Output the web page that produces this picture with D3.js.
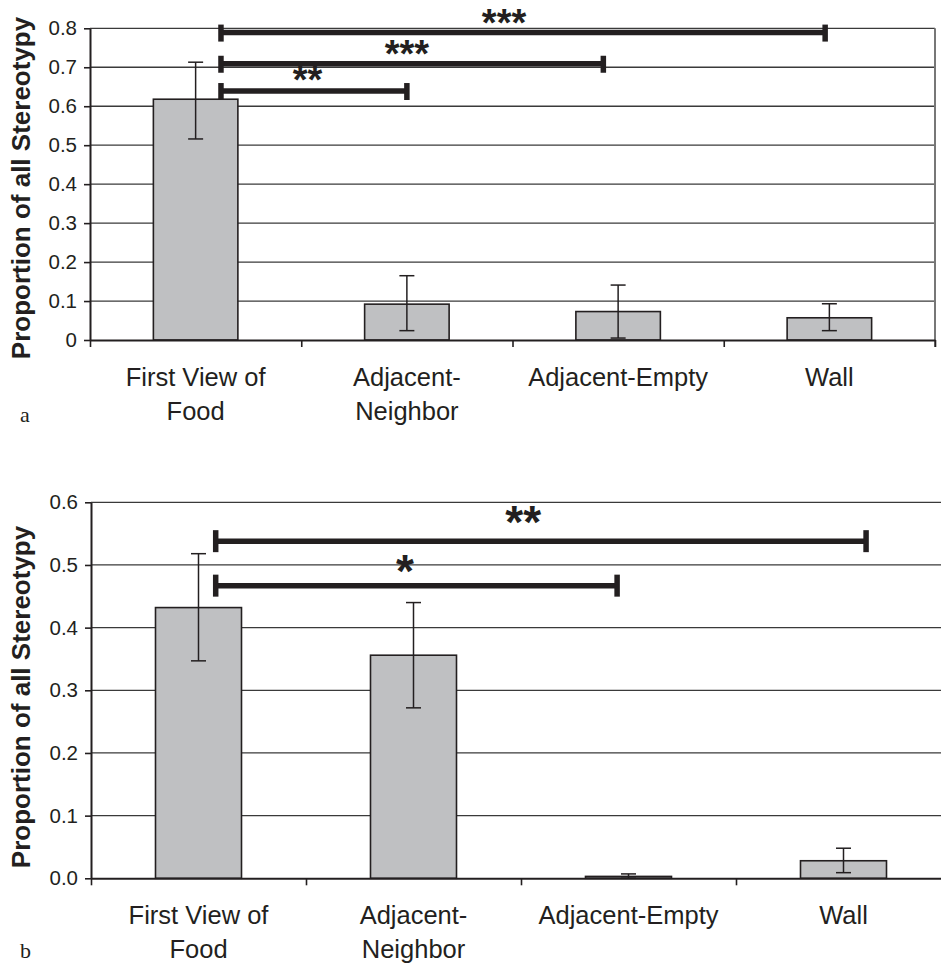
<!DOCTYPE html>
<html>
<head>
<meta charset="utf-8">
<script src="https://cdn.jsdelivr.net/npm/d3@7"></script>
<style>
  html, body { margin: 0; padding: 0; background: #fff; }
  svg { display: block; }
</style>
</head>
<body>
<svg id="chart" width="941" height="965"></svg>
<script>
// ---------- DATA ----------
const categories = ["First View of Food", "Adjacent-Neighbor", "Adjacent-Empty", "Wall"];
const categoryLabelLines = [["First View of", "Food"], ["Adjacent-", "Neighbor"], ["Adjacent-Empty"], ["Wall"]];

// Panel a
const valuesA = [0.618, 0.092, 0.073, 0.057];
const errHighA = [0.713, 0.165, 0.141, 0.093];
const errLowA = [0.516, 0.024, 0.005, 0.024];
const tickValuesA = [0, 0.1, 0.2, 0.3, 0.4, 0.5, 0.6, 0.7, 0.8];
const tickLabelsA = ["0", "0.1", "0.2", "0.3", "0.4", "0.5", "0.6", "0.7", "0.8"];
// significance brackets: from/to in category units (0..4), height in data units
const sigFromA = [0.62, 0.62, 0.62];
const sigToA = [3.48, 2.43, 1.50];
const sigLevelA = [0.789, 0.709, 0.639];
const sigTextA = ["***", "***", "**"];
const sigTextXA = [1.96, 1.50, 1.03];
const sigTextYA = [0.826, 0.748, 0.680];

// Panel b
const valuesB = [0.432, 0.356, 0.003, 0.028];
const errHighB = [0.518, 0.440, 0.007, 0.048];
const errLowB = [0.347, 0.272, 0.000, 0.009];
const tickValuesB = [0, 0.1, 0.2, 0.3, 0.4, 0.5, 0.6];
const tickLabelsB = ["0.0", "0.1", "0.2", "0.3", "0.4", "0.5", "0.6"];
const sigFromB = [0.58, 0.58];
const sigToB = [3.605, 2.447];
const sigLevelB = [0.538, 0.467];
const sigTextB = ["**", "*"];
const sigTextXB = [2.01, 1.46];
const sigTextYB = [0.578, 0.500];

const axisTitle = "Proportion of all Stereotypy";

// ---------- DRAW ----------
const svg = d3.select("#chart");
const ink = "#231f20";
const sans = "'Liberation Sans', Arial, Helvetica, sans-serif";

function panel(opts) {
  const g = svg.append("g");
  const x0 = opts.x0, x1 = opts.x1;
  const y = d3.scaleLinear().domain([0, opts.yMax]).range([opts.yBottom, opts.yTop]);
  const band = d3.scaleBand().domain(categories).range([x0, x1])
    .paddingInner(0.6).paddingOuter(0.3);
  const cu = d3.scaleLinear().domain([0, categories.length]).range([x0, x1]);

  // gridlines
  g.append("g").selectAll("line").data(opts.ticks.filter(d => d > 0)).join("line")
    .attr("x1", x0).attr("x2", opts.gridEnd)
    .attr("y1", d => y(d)).attr("y2", d => y(d))
    .attr("stroke", "#3a3a3a").attr("stroke-width", 1.3);

  // right border (panel a only)
  if (opts.rightBorder) {
    g.append("line").attr("x1", x1).attr("x2", x1)
      .attr("y1", y(opts.yMax)).attr("y2", y(0) + 7)
      .attr("stroke", "#777").attr("stroke-width", 2);
  }

  // bars
  const data = categories.map((c, i) => ({ c, v: opts.values[i], hi: opts.hi[i], lo: opts.lo[i] }));
  g.append("g").selectAll("rect").data(data).join("rect")
    .attr("x", d => band(d.c)).attr("width", band.bandwidth())
    .attr("y", d => y(d.v)).attr("height", d => y(0) - y(d.v))
    .attr("fill", "#bfc0c2").attr("stroke", ink).attr("stroke-width", 1.6);

  // error bars
  const eb = g.append("g").attr("stroke", ink).attr("stroke-width", 1.5);
  data.forEach(d => {
    const cx = band(d.c) + band.bandwidth() / 2;
    eb.append("line").attr("x1", cx).attr("x2", cx).attr("y1", y(d.hi)).attr("y2", y(d.lo));
    eb.append("line").attr("x1", cx - 7.5).attr("x2", cx + 7.5).attr("y1", y(d.hi)).attr("y2", y(d.hi));
    eb.append("line").attr("x1", cx - 7.5).attr("x2", cx + 7.5).attr("y1", y(d.lo)).attr("y2", y(d.lo));
  });

  // y axis
  const yAxis = d3.axisLeft(y).tickValues(opts.ticks)
    .tickFormat((d, i) => opts.tickLabels[i]).tickSize(6).tickSizeOuter(0).tickPadding(7);
  const ya = g.append("g").attr("transform", `translate(${x0},0)`).call(yAxis);
  ya.select(".domain").attr("stroke", ink).attr("stroke-width", 2);
  ya.selectAll(".tick line").attr("stroke", ink).attr("stroke-width", 1.6);
  ya.selectAll(".tick text").attr("fill", ink).style("font-family", sans).style("font-size", "20.5px");

  // x axis (category boundaries)
  const xAxis = d3.axisBottom(cu).tickValues(d3.range(categories.length + 1))
    .tickFormat("").tickSize(7).tickSizeOuter(0);
  const xa = g.append("g").attr("transform", `translate(0,${y(0)})`).call(xAxis);
  xa.select(".domain").attr("stroke", ink).attr("stroke-width", 2);
  xa.selectAll(".tick line").attr("stroke", ink).attr("stroke-width", 1.6);

  // category labels
  const lab = g.append("g").attr("fill", ink).style("font-family", sans).style("font-size", "25.5px")
    .attr("text-anchor", "middle");
  categories.forEach((c, i) => {
    const t = lab.append("text").attr("x", band(c) + band.bandwidth() / 2).attr("y", y(0) + 46);
    categoryLabelLines[i].forEach((line, j) => {
      t.append("tspan").attr("x", band(c) + band.bandwidth() / 2).attr("dy", j === 0 ? 0 : 33.5).text(line);
    });
  });

  // axis title
  g.append("text")
    .attr("transform", `translate(30,${opts.titleY}) rotate(-90)`)
    .attr("text-anchor", "middle").attr("fill", ink)
    .style("font-family", sans).style("font-size", "26px").style("font-weight", "bold")
    .text(axisTitle);

  // panel letter
  g.append("text").attr("x", 20).attr("y", opts.letterY).attr("fill", ink)
    .style("font-family", "'Liberation Serif', 'Times New Roman', serif").style("font-size", "22px")
    .text(opts.letter);

  // significance brackets
  const sg = g.append("g").attr("stroke", ink).attr("stroke-width", 5.5).attr("fill", "none");
  opts.sigFrom.forEach((f, i) => {
    const xs = cu(f), xe = cu(opts.sigTo[i]), yy = y(opts.sigLevel[i]);
    sg.append("line").attr("x1", xs).attr("x2", xe).attr("y1", yy).attr("y2", yy);
    sg.append("line").attr("x1", xs).attr("x2", xs).attr("y1", yy - opts.capUp).attr("y2", yy + opts.capDown);
    sg.append("line").attr("x1", xe).attr("x2", xe).attr("y1", yy - opts.capUp).attr("y2", yy + opts.capDown);
  });
  const st = g.append("g").attr("fill", ink).attr("text-anchor", "middle")
    .style("font-family", sans).style("font-weight", "bold").style("font-size", opts.starSize + "px");
  opts.sigText.forEach((s, i) => {
    st.append("text").attr("x", cu(opts.sigTextX[i]))
      .attr("y", y(opts.sigTextY[i]) + 0.478 * opts.starSize)
      .text(s);
  });
}

panel({
  x0: 90, x1: 935, gridEnd: 935, yTop: 28.3, yBottom: 340, yMax: 0.8,
  values: valuesA, hi: errHighA, lo: errLowA,
  ticks: tickValuesA, tickLabels: tickLabelsA,
  sigFrom: sigFromA, sigTo: sigToA, sigLevel: sigLevelA,
  sigText: sigTextA, sigTextX: sigTextXA, sigTextY: sigTextYA,
  capUp: 8, capDown: 9, starSize: 38,
  rightBorder: true, titleY: 188, letter: "a", letterY: 422
});

panel({
  x0: 91, x1: 951, gridEnd: 951, yTop: 502.3, yBottom: 878.3, yMax: 0.6,
  values: valuesB, hi: errHighB, lo: errLowB,
  ticks: tickValuesB, tickLabels: tickLabelsB,
  sigFrom: sigFromB, sigTo: sigToB, sigLevel: sigLevelB,
  sigText: sigTextB, sigTextX: sigTextXB, sigTextY: sigTextYB,
  capUp: 11, capDown: 11, starSize: 46,
  rightBorder: false, titleY: 697, letter: "b", letterY: 958
});
</script>
</body>
</html>
